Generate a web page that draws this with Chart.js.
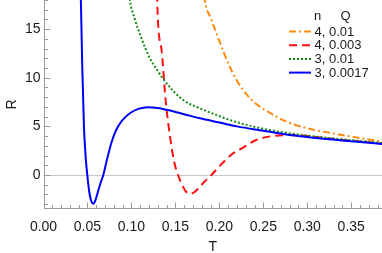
<!DOCTYPE html>
<html>
<head>
<meta charset="utf-8">
<script src="https://cdn.jsdelivr.net/npm/chart.js@4.4.1/dist/chart.umd.min.js"></script>
<style>
  html, body { margin: 0; padding: 0; background: #fff; }
  #wrap { width: 382px; height: 253px; }
</style>
</head>
<body>
<div id="wrap"><canvas id="chart"></canvas></div>
<script>
// tick values
const xTicks = [0, 0.05, 0.1, 0.15, 0.2, 0.25, 0.3, 0.35];
const yTicks = [0, 5, 10, 15];

// n = 4, Q = 0.01
const tOrange = [0.1815, 0.1835, 0.19, 0.1968, 0.205, 0.212, 0.22, 0.23, 0.24, 0.2536, 0.265, 0.28, 0.3, 0.329, 0.36, 0.385];
const rOrange = [20, 18, 16.2, 14.56, 12.6, 11.1, 9.7, 8.4, 7.45, 6.6, 6.0, 5.35, 4.8, 4.28, 3.8, 3.45];

// n = 4, Q = 0.003
const tRed = [0.1285, 0.1293, 0.1343, 0.1389, 0.1445, 0.149, 0.153, 0.158, 0.162, 0.1665, 0.171, 0.176, 0.183, 0.191, 0.2, 0.2157, 0.223, 0.242, 0.26, 0.28, 0.3, 0.33, 0.36, 0.385];
const rRed = [24, 18, 12.85, 7.7, 3.6, 1.2, 0, -1.1, -1.7, -1.95, -1.8, -1.4, -0.7, 0, 0.9, 2.23, 2.6, 3.6, 4.0, 4.1, 4.0, 3.7, 3.45, 3.22];

// n = 3, Q = 0.01
const tGreen = [0.095, 0.0983, 0.104, 0.11, 0.116, 0.121, 0.13, 0.136, 0.147, 0.159, 0.178, 0.2, 0.212, 0.24, 0.28, 0.32, 0.35, 0.385];
const rGreen = [21, 18, 16.0, 14.4, 13.0, 12.0, 10.7, 9.9, 8.7, 7.7, 6.85, 6.05, 5.65, 4.95, 4.28, 3.85, 3.58, 3.3];

// n = 3, Q = 0.0017
const tBlue = [0.0415, 0.0425, 0.0441, 0.046, 0.048, 0.0498, 0.052, 0.054, 0.0566, 0.059, 0.062, 0.065, 0.068, 0.0725, 0.0775, 0.0825, 0.087, 0.093, 0.1, 0.108, 0.119, 0.13, 0.14, 0.16, 0.178, 0.2, 0.22, 0.25, 0.28, 0.31, 0.34, 0.36, 0.385];
const rBlue = [24, 18, 11.1, 5, 1.8, 0, -1.7, -2.6, -2.95, -2.6, -1.7, -0.8, 0, 1.7, 3.4, 4.6, 5.3, 5.95, 6.45, 6.8, 6.96, 6.88, 6.7, 6.25, 5.83, 5.4, 5.0, 4.55, 4.11, 3.8, 3.55, 3.4, 3.18];

const toPts = (ts, rs) => ts.map((t, i) => ({ x: t, y: rs[i] }));

const fontFam = "'Liberation Sans', Arial, sans-serif";
const ink = "#1a1a1a";
const frame = "#9a9a9a";

// frame, inner ticks and zero line, Mathematica style
const framePlugin = {
  id: "frame",
  beforeDatasetsDraw(chart) {
    const { ctx, chartArea: a, scales } = chart;
    const xs = scales.x, ys = scales.y;
    ctx.save();
    ctx.lineWidth = 1;
    // zero line
    const y0 = Math.round(ys.getPixelForValue(0)) + 0.5;
    ctx.strokeStyle = "#c8c8c8";
    ctx.beginPath();
    ctx.moveTo(a.left, y0);
    ctx.lineTo(a.right, y0);
    ctx.stroke();
    // frame lines
    const L = Math.round(a.left) + 0.5, B = Math.round(a.bottom) - 0.5;
    ctx.strokeStyle = frame;
    ctx.beginPath();
    ctx.moveTo(L, a.top);
    ctx.lineTo(L, B);
    ctx.lineTo(a.right, B);
    ctx.stroke();
    // x ticks
    ctx.beginPath();
    for (let i = 0; i <= 38; i++) {
      const px = Math.round(xs.getPixelForValue(i / 100)) + 0.5;
      const len = i % 5 === 0 ? 6 : 3.5;
      ctx.moveTo(px, B);
      ctx.lineTo(px, B - len);
    }
    // y ticks
    for (let v = -3; v <= 18; v++) {
      const py = Math.round(ys.getPixelForValue(v)) + 0.5;
      const len = v % 5 === 0 ? 6 : 3.5;
      ctx.moveTo(L, py);
      ctx.lineTo(L + len, py);
    }
    ctx.stroke();
    ctx.restore();
  },
  afterDraw(chart) {
    const { ctx } = chart;
    ctx.save();
    ctx.font = "13px " + fontFam;
    ctx.fillStyle = ink;
    ctx.textBaseline = "middle";
    ctx.textAlign = "center";
    ctx.fillText("n", 317.5, 16.5);
    ctx.fillText("Q", 345.5, 16.5);
    ctx.textAlign = "left";
    chart.data.datasets.forEach((ds, i) => {
      const y = 31.5 + i * 13.7;
      ctx.strokeStyle = ds.borderColor;
      ctx.lineWidth = 2;
      ctx.setLineDash(ds.borderDash || []);
      ctx.beginPath();
      ctx.moveTo(289, y);
      ctx.lineTo(311, y);
      ctx.stroke();
      ctx.setLineDash([]);
      ctx.fillText(ds.label, 314.5, y + 0.5);
    });
    ctx.restore();
  },
};

const common = { pointRadius: 0, borderWidth: 2, fill: false, cubicInterpolationMode: "monotone" };

new Chart(document.getElementById("chart"), {
  type: "line",
  data: {
    datasets: [
      { ...common, label: "4, 0.01", data: toPts(tOrange, rOrange), borderColor: "#ff8a10", borderDash: [7, 3, 2, 3], order: 3 },
      { ...common, label: "4, 0.003", data: toPts(tRed, rRed), borderColor: "#ff1010", borderDash: [8, 5], order: 2 },
      { ...common, label: "3, 0.01", data: toPts(tGreen, rGreen), borderColor: "#128a12", borderDash: [2, 2], order: 1 },
      { ...common, label: "3, 0.0017", data: toPts(tBlue, rBlue), borderColor: "#0000ff", order: 0 },
    ],
  },
  options: {
    responsive: true,
    maintainAspectRatio: false,
    animation: false,
    layout: { padding: 0 },
    plugins: { legend: { display: false }, tooltip: { enabled: false } },
    scales: {
      x: {
        type: "linear",
        min: 0,
        max: 0.385,
        grid: { display: false, drawTicks: false },
        border: { display: false },
        afterBuildTicks: (s) => { s.ticks = xTicks.map((v) => ({ value: v })); },
        afterFit: (s) => { s.height = 44; s.paddingLeft = 0; s.paddingRight = 0; },
        ticks: {
          color: ink,
          padding: 10,
          maxRotation: 0,
          font: { family: fontFam, size: 14 },
          callback: (v) => Number(v).toFixed(2),
        },
        title: { display: true, text: "T", color: ink, padding: { top: 0, bottom: -3 }, font: { family: fontFam, size: 14 } },
      },
      y: {
        type: "linear",
        min: -3.5,
        max: 18,
        grid: { display: false, drawTicks: false },
        border: { display: false },
        afterBuildTicks: (s) => { s.ticks = yTicks.map((v) => ({ value: v })); },
        afterFit: (s) => { s.width = 43.5; s.paddingTop = 0; s.paddingBottom = 0; },
        ticks: {
          color: ink,
          padding: 3,
          font: { family: fontFam, size: 14 },
          callback: (v) => String(v),
        },
        title: { display: true, text: "R", color: ink, padding: 3.5, font: { family: fontFam, size: 14 } },
      },
    },
  },
  plugins: [framePlugin],
});
</script>
</body>
</html>
